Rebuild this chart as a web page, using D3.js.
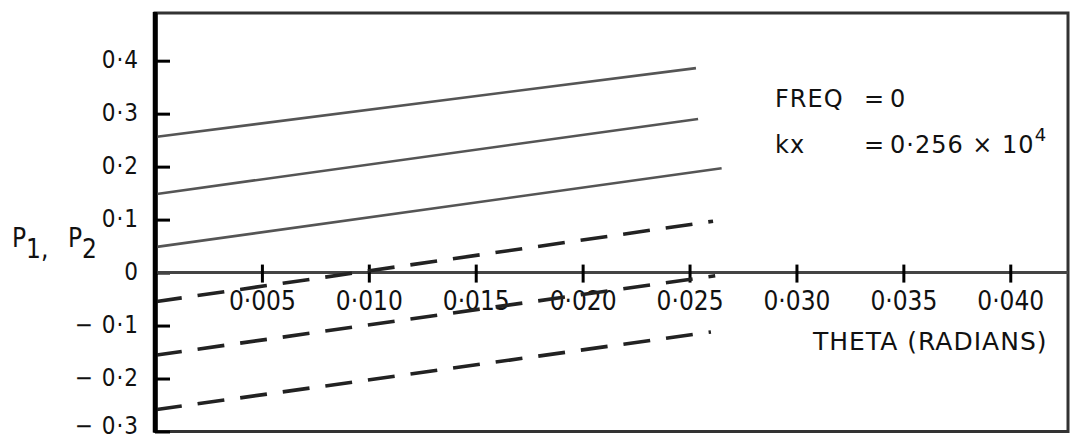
<!DOCTYPE html>
<html lang="en">
<head>
<meta charset="utf-8">
<title>P1, P2 vs theta</title>
<script src="https://d3js.org/d3.v7.min.js"></script>
<style type="text/css">
  body { margin: 0; background: #fff; }
  text { font-family: "DejaVu Sans Condensed", "DejaVu Sans", sans-serif; fill: #111; }
  text.wide { font-family: "DejaVu Sans", sans-serif; letter-spacing: 1px; }
  .solid { fill: none; stroke: #555; stroke-width: 2.6px; }
  .dashed { fill: none; stroke: #222; stroke-width: 3.6px; stroke-dasharray: 27 16; }
</style>
</head>
<body>
<script type="text/javascript">

// lines: [theta, value] at each end
var p1Top = [[0, 0.256], [0.0253, 0.386]];
var p1Mid = [[0, 0.148], [0.0254, 0.290]];
var p1Low = [[0, 0.048], [0.0265, 0.197]];
var p2Top = [[0, -0.055], [0.0261, 0.097]];
var p2Mid = [[0, -0.156], [0.0262, -0.006]];
var p2Low = [[0, -0.259], [0.0260, -0.112]];

var xTicks = [0.005, 0.010, 0.015, 0.020, 0.025, 0.030, 0.035, 0.040];
var xTickLabels = ["0·005", "0·010", "0·015", "0·020", "0·025", "0·030", "0·035", "0·040"];
var yTicks = [-0.3, -0.2, -0.1, 0, 0.1, 0.2, 0.3, 0.4];
var yTickLabels = ["− 0·3", "− 0·2", "− 0·1", "0", "0·1", "0·2", "0·3", "0·4"];

var w = 1070, h = 440;
var svg = d3.select("body").append("svg")
            .attr("width", w)
            .attr("height", h);

var xScale = d3.scaleLinear().domain([0, 0.0427]).range([155, 1068]);
var yScale = d3.scaleLinear().domain([-0.3, 0.49]).range([431.5, 13]);

// frame
svg.append("rect")
   .attr("x", xScale(0)).attr("y", yScale(0.49))
   .attr("width", xScale(0.0427) - xScale(0))
   .attr("height", yScale(-0.3) - yScale(0.49))
   .attr("fill", "none")
   .attr("stroke", "#333")
   .attr("stroke-width", 3);

// y axis, ticks point inwards
var yAxis = d3.axisLeft(yScale)
              .tickValues(yTicks)
              .tickFormat((d, i) => yTickLabels[i])
              .tickSizeInner(-15)
              .tickSizeOuter(0)
              .tickPadding(16);

var gy = svg.append("g")
   .attr("transform", `translate(${xScale(0)},0)`)
   .call(yAxis);
gy.select(".domain").attr("stroke", "#000").attr("stroke-width", 4.5);
gy.selectAll(".tick line").attr("stroke", "#000").attr("stroke-width", 3);
gy.selectAll(".tick text").attr("font-size", 24).attr("fill", "#111")
  .attr("dy", "0.28em").attr("letter-spacing", 1).attr("font-family", null);
// bottom label sits a little higher, as on the original
gy.selectAll(".tick text").filter(d => d === -0.3).attr("dy", "0.1em");

// x axis through zero
var xAxis = d3.axisBottom(xScale)
              .tickValues(xTicks)
              .tickFormat((d, i) => xTickLabels[i])
              .tickSizeOuter(0);

var gx = svg.append("g")
   .attr("transform", `translate(0,${yScale(0)})`)
   .call(xAxis);
gx.select(".domain").attr("stroke", "#444").attr("stroke-width", 3)
  .attr("d", `M${xScale(0)},0H${xScale(0.0427)}`);
gx.selectAll(".tick line").attr("y1", -8).attr("y2", 10)
  .attr("stroke", "#000").attr("stroke-width", 3);
gx.selectAll(".tick text").attr("y", 19).attr("dy", "0.71em")
  .attr("font-size", 26).attr("fill", "#111").attr("font-family", null);

// lines
var lineGen = d3.line()
                .x(d => xScale(d[0]))
                .y(d => yScale(d[1]));

[p1Top, p1Mid, p1Low].forEach(function(s) {
  svg.append("path").datum(s).attr("class", "solid").attr("d", lineGen);
});
[p2Top, p2Mid, p2Low].forEach(function(s) {
  svg.append("path").datum(s).attr("class", "dashed").attr("d", lineGen);
});

// redraw left axis over the line ends
svg.append("line")
   .attr("x1", xScale(0)).attr("x2", xScale(0))
   .attr("y1", yScale(0.49) - 1).attr("y2", yScale(-0.3) + 1)
   .attr("stroke", "#000").attr("stroke-width", 4.5);

// annotation
var note = svg.append("g").attr("font-size", 24);
var t1 = note.append("text").attr("class", "wide").attr("y", 107);
t1.append("tspan").attr("x", 775).text("FREQ");
t1.append("tspan").attr("x", 864).text("=");
t1.append("tspan").attr("x", 890).text("0");
var t2 = note.append("text").attr("class", "wide").attr("y", 153);
t2.append("tspan").attr("x", 775).text("kx");
t2.append("tspan").attr("x", 864).text("=");
t2.append("tspan").attr("x", 890).text("0·256  ×  10");
t2.append("tspan").attr("dy", -12).attr("font-size", 18).text("4");

// axis titles
svg.append("text")
   .attr("class", "wide")
   .attr("x", 813).attr("y", 350)
   .attr("font-size", 25)
   .text("THETA  (RADIANS)");

var yl = svg.append("text").attr("x", 12).attr("y", 247).attr("font-size", 26);
yl.append("tspan").text("P");
yl.append("tspan").attr("dy", 11).text("1,");
yl.append("tspan").attr("x", 68).attr("dy", -11).text("P");
yl.append("tspan").attr("dy", 11).text("2");

</script>
</body>
</html>
